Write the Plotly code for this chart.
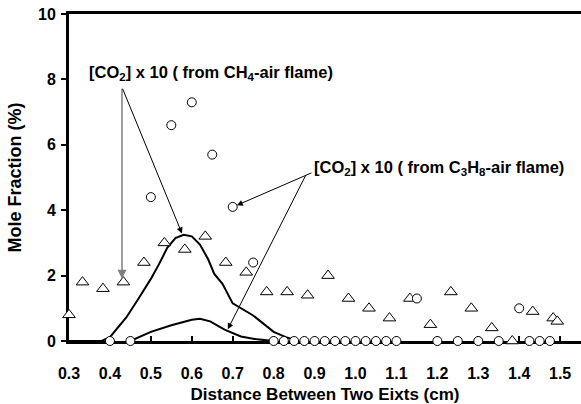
import plotly.graph_objects as go

# Circles: [CO2] x 10 measurements
circ_x = [0.40, 0.45, 0.50, 0.55, 0.60, 0.65, 0.70, 0.75,
          0.80, 0.825, 0.85, 0.875, 0.90, 0.925, 0.95, 0.975, 1.00, 1.025, 1.05, 1.075, 1.10,
          1.15, 1.20, 1.25, 1.30, 1.35, 1.40, 1.425, 1.45, 1.475]
circ_y = [0.0, 0.0, 4.4, 6.6, 7.3, 5.7, 4.1, 2.4,
          0, 0, 0, 0, 0, 0, 0, 0, 0, 0, 0, 0, 0,
          1.3, 0, 0, 0, 0, 1.0, 0, 0, 0]

# Triangles
tri_x = [0.30, 0.333, 0.383, 0.433, 0.483, 0.533, 0.583, 0.633, 0.683, 0.733, 0.783, 0.833,
         0.883, 0.933, 0.983, 1.033, 1.083, 1.133, 1.183, 1.233, 1.283, 1.333, 1.383, 1.433,
         1.483, 1.493]
tri_y = [0.8, 1.8, 1.6, 1.8, 2.4, 3.0, 2.8, 3.2, 2.4, 2.1, 1.5, 1.5,
         1.4, 2.0, 1.3, 1.0, 0.7, 1.3, 0.5, 1.5, 1.0, 0.4, 0.0, 0.9,
         0.7, 0.6]

# Curve 1 (large profile)
c1_x = [0.30, 0.38, 0.40, 0.44, 0.47, 0.50, 0.52, 0.54, 0.56, 0.58, 0.60, 0.62, 0.64,
        0.655, 0.675, 0.70, 0.75, 0.80, 0.83, 0.86]
c1_y = [0.0, 0.0, 0.12, 0.72, 1.3, 1.9, 2.35, 2.85, 3.15, 3.25, 3.2, 2.95, 2.5,
        2.05, 1.75, 1.15, 0.78, 0.28, 0.12, 0.0]

# Curve 2 (small profile)
c2_x = [0.45, 0.50, 0.55, 0.60, 0.62, 0.645, 0.68, 0.72, 0.76, 0.80]
c2_y = [0.0, 0.28, 0.48, 0.65, 0.68, 0.6, 0.35, 0.14, 0.05, 0.0]

x_ticks = [0.3, 0.4, 0.5, 0.6, 0.7, 0.8, 0.9, 1.0, 1.1, 1.2, 1.3, 1.4, 1.5]
y_ticks = [0, 2, 4, 6, 8, 10]

FONT = "Liberation Sans, Arial, sans-serif"
FS = 16

fig = go.Figure()
fig.add_trace(go.Scatter(x=c1_x, y=c1_y, mode="lines", line=dict(color="black", width=2),
                         cliponaxis=False, showlegend=False))
fig.add_trace(go.Scatter(x=c2_x, y=c2_y, mode="lines", line=dict(color="black", width=2),
                         cliponaxis=False, showlegend=False))
fig.add_trace(go.Scatter(x=tri_x, y=tri_y, mode="markers",
                         marker=dict(symbol="triangle-up", size=11, color="white",
                                     line=dict(color="black", width=1)),
                         cliponaxis=False, showlegend=False))
fig.add_trace(go.Scatter(x=circ_x, y=circ_y, mode="markers",
                         marker=dict(symbol="circle", size=9, color="white",
                                     line=dict(color="black", width=1)),
                         cliponaxis=False, showlegend=False))

label1 = "<b>[CO<sub>2</sub>] x 10 ( from CH<sub>4</sub>-air flame)</b>"
label2 = "<b>[CO<sub>2</sub>] x 10 ( from C<sub>3</sub>H<sub>8</sub>-air flame)</b>"

annotations = [
    dict(x=0.344, y=8.19, xref="x", yref="y", text=label1, showarrow=False,
         xanchor="left", yanchor="middle", font=dict(family=FONT, size=16.5, color="black")),
    dict(x=0.894, y=5.28, xref="x", yref="y", text=label2, showarrow=False,
         xanchor="left", yanchor="middle", font=dict(family=FONT, size=16.5, color="black")),
    dict(x=0.4295, y=1.9, ax=0.4295, ay=7.76, xref="x", yref="y", axref="x", ayref="y",
         text="", showarrow=True, arrowhead=2, arrowsize=1.2, arrowwidth=1.5, arrowcolor="#808080"),
    dict(x=0.576, y=3.29, ax=0.4295, ay=7.76, xref="x", yref="y", axref="x", ayref="y",
         text="", showarrow=True, arrowhead=2, arrowsize=1.2, arrowwidth=1, arrowcolor="black"),
    dict(x=0.710, y=4.15, ax=0.896, ay=5.16, xref="x", yref="y", axref="x", ayref="y",
         text="", showarrow=True, arrowhead=2, arrowsize=1.2, arrowwidth=1, arrowcolor="black"),
    dict(x=0.688, y=0.36, ax=0.881, ay=5.13, xref="x", yref="y", axref="x", ayref="y",
         text="", showarrow=True, arrowhead=2, arrowsize=1.2, arrowwidth=1, arrowcolor="black"),
]

fig.update_layout(
    width=581, height=404,
    margin=dict(l=69, r=0, t=14, b=63),
    paper_bgcolor="white", plot_bgcolor="white",
    font=dict(family=FONT, size=FS, color="black"),
    annotations=annotations,
    xaxis=dict(range=[0.3, 1.551], tickvals=x_ticks, ticktext=[f"<b>{v:.1f}</b>" for v in x_ticks],
               showgrid=False, zeroline=False, showline=True, linecolor="black", linewidth=3,
               mirror=True, ticks="inside", ticklen=5, tickwidth=2, tickcolor="black",
               ticklabelstandoff=16, layer="below traces", automargin=False,
               tickfont=dict(family=FONT, size=FS, color="black"),
               title=dict(text="<b>Distance Between Two Eixts (cm)</b>", standoff=19,
                          font=dict(family=FONT, size=17, color="black"))),
    yaxis=dict(range=[0, 10], tickvals=y_ticks, ticktext=[f"<b>{v}</b>" for v in y_ticks],
               showgrid=False, zeroline=False, showline=True, linecolor="black", linewidth=3,
               ticks="outside", ticklen=5, tickwidth=2, tickcolor="black",
               ticklabelstandoff=2, layer="below traces", automargin=False,
               tickfont=dict(family=FONT, size=FS, color="black"),
               title=dict(text="<b>Mole Fraction (%)</b>", standoff=12,
                          font=dict(family=FONT, size=18, color="black"))),
)

fig.write_html("out.html")
